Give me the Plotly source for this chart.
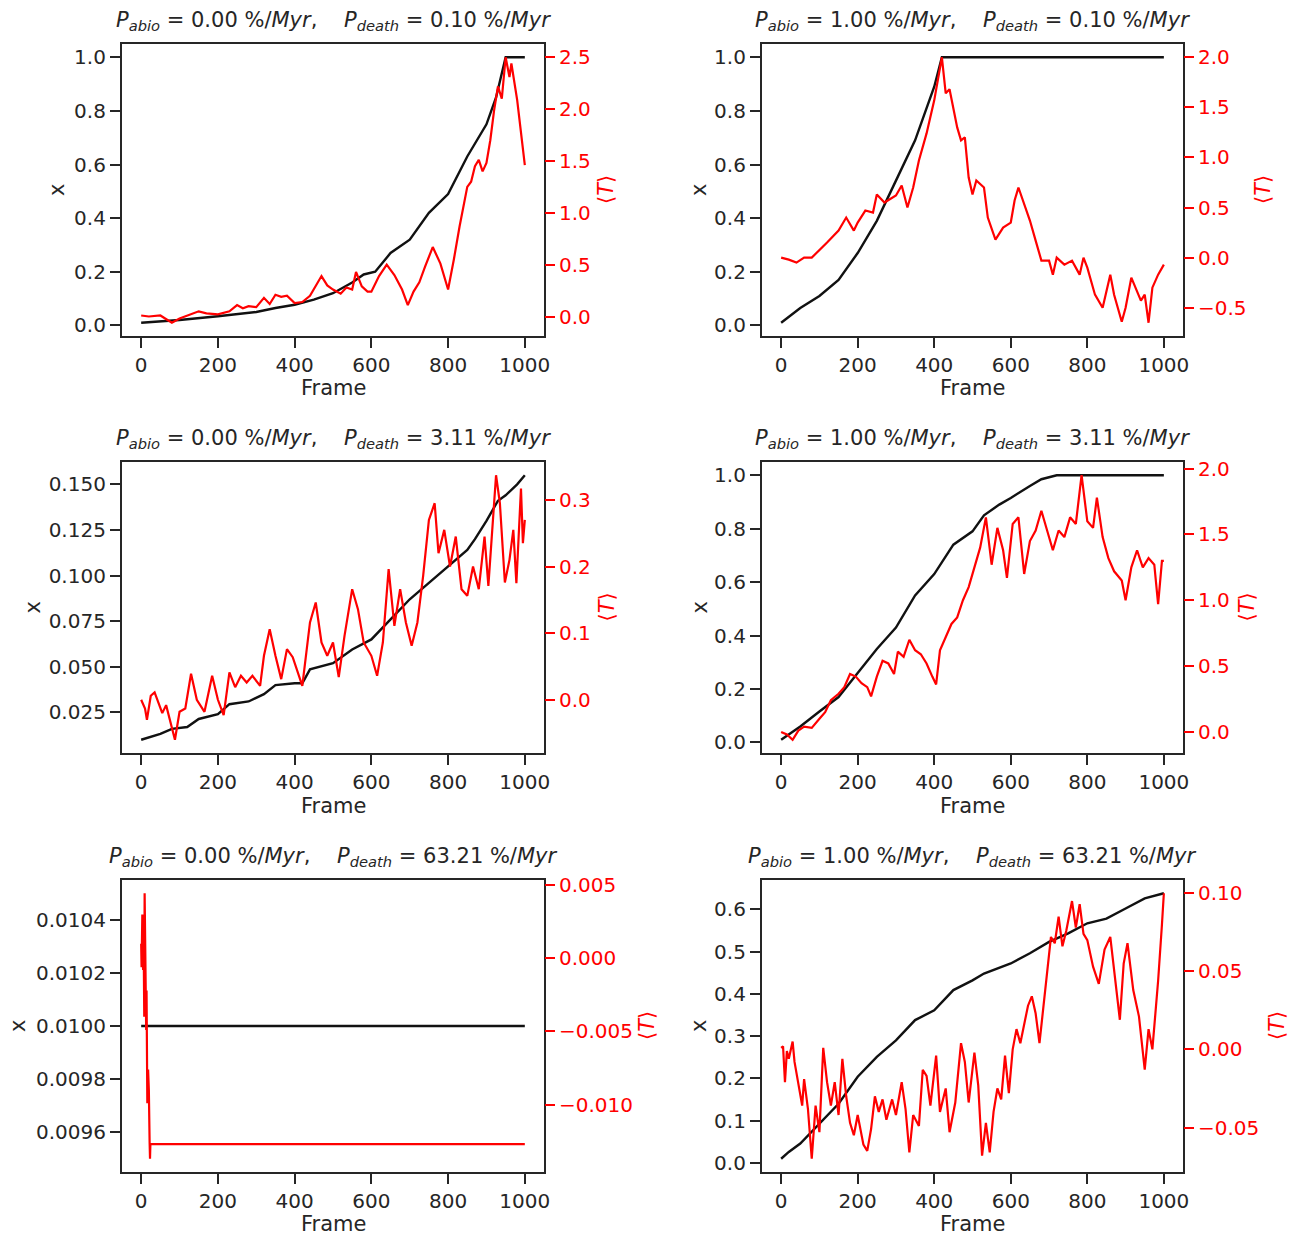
import plotly.graph_objects as go

# ---------------- data ----------------
P_abio = ["0.00", "1.00", "0.00", "1.00", "0.00", "1.00"]
P_death = ["0.10", "0.10", "3.11", "3.11", "63.21", "63.21"]

x_ticks = [0, 200, 400, 600, 800, 1000]

# Panel 1: P_abio 0.00, P_death 0.10
p1_x_frames = [0, 100, 200, 300, 350, 400, 450, 500, 550, 580, 610, 650, 700, 750, 800, 850, 900, 925, 950, 1000]
p1_x_vals = [0.01, 0.02, 0.034, 0.05, 0.065, 0.077, 0.096, 0.12, 0.16, 0.19, 0.20, 0.27, 0.32, 0.42, 0.49, 0.63, 0.75, 0.85, 1.0, 1.0]
p1_T_frames = [0, 20, 50, 80, 100, 130, 150, 170, 200, 230, 250, 265, 280, 300, 320, 335, 350, 365, 380, 400, 420, 440,
               450, 470, 485, 500, 520, 535, 550, 560, 575, 590, 600, 620, 640, 660, 680, 695, 710, 725, 740, 760, 780,
               800, 815, 830, 850, 860, 870, 880, 890, 900, 910, 920, 930, 940, 950, 960, 965, 980, 1000]
p1_T_vals = [0.01, 0.0, 0.01, -0.06, -0.02, 0.02, 0.05, 0.03, 0.02, 0.05, 0.11, 0.08, 0.10, 0.09, 0.18, 0.12, 0.21, 0.19,
             0.20, 0.13, 0.14, 0.20, 0.26, 0.39, 0.30, 0.26, 0.22, 0.28, 0.26, 0.43, 0.29, 0.24, 0.24, 0.39, 0.50, 0.40,
             0.26, 0.11, 0.24, 0.33, 0.48, 0.67, 0.51, 0.26, 0.55, 0.87, 1.25, 1.30, 1.45, 1.51, 1.40, 1.48, 1.70, 1.99,
             2.22, 2.10, 2.50, 2.31, 2.44, 2.09, 1.46]
p1_left_ticks = [0.0, 0.2, 0.4, 0.6, 0.8, 1.0]
p1_right_ticks = [0.0, 0.5, 1.0, 1.5, 2.0, 2.5]

# Panel 2: P_abio 1.00, P_death 0.10
p2_x_frames = [0, 50, 100, 150, 200, 250, 300, 350, 400, 420, 1000]
p2_x_vals = [0.01, 0.065, 0.11, 0.17, 0.27, 0.39, 0.54, 0.69, 0.89, 1.0, 1.0]
p2_T_frames = [0, 20, 40, 60, 80, 100, 120, 150, 170, 190, 200, 220, 240, 250, 270, 300, 315, 330, 345, 360, 380, 400,
               410, 420, 430, 440, 460, 470, 480, 490, 500, 510, 530, 540, 560, 580, 600, 610, 620, 635, 650, 665, 680,
               700, 710, 720, 740, 760, 780, 790, 800, 820, 840, 860, 870, 890, 900, 915, 930, 940, 950, 960, 970, 985,
               1000]
p2_T_vals = [0.0, -0.02, -0.05, 0.0, 0.0, 0.07, 0.15, 0.27, 0.40, 0.27, 0.35, 0.47, 0.45, 0.63, 0.55, 0.62, 0.72, 0.50,
             0.70, 0.97, 1.24, 1.57, 1.77, 2.0, 1.64, 1.68, 1.30, 1.17, 1.20, 0.80, 0.63, 0.77, 0.70, 0.40, 0.18, 0.30,
             0.35, 0.57, 0.70, 0.53, 0.37, 0.17, -0.03, -0.03, -0.17, 0.0, -0.07, -0.03, -0.17, 0.0, -0.10, -0.37,
             -0.50, -0.17, -0.37, -0.64, -0.50, -0.20, -0.33, -0.43, -0.37, -0.65, -0.30, -0.17, -0.07]
p2_left_ticks = [0.0, 0.2, 0.4, 0.6, 0.8, 1.0]
p2_right_ticks = [-0.5, 0.0, 0.5, 1.0, 1.5, 2.0]

# Panel 3: P_abio 0.00, P_death 3.11
p3_x_frames = [0, 50, 80, 120, 150, 200, 230, 280, 320, 350, 400, 420, 440, 500, 550, 600, 650, 700, 750, 800, 850,
               870, 900, 930, 950, 980, 1000]
p3_x_vals = [0.010, 0.0132, 0.016, 0.017, 0.0214, 0.024, 0.0295, 0.031, 0.035, 0.040, 0.041, 0.041, 0.0486, 0.052,
             0.0595, 0.065, 0.076, 0.087, 0.096, 0.105, 0.114, 0.120, 0.130, 0.141, 0.144, 0.150, 0.155]
p3_T_frames = [0, 10, 15, 25, 35, 45, 55, 65, 75, 88, 100, 115, 130, 145, 165, 185, 200, 215, 230, 245, 260, 275, 290,
               310, 320, 335, 350, 365, 380, 395, 420, 440, 455, 470, 485, 500, 515, 530, 550, 565, 580, 600, 615, 630,
               645, 660, 675, 690, 705, 720, 735, 750, 765, 775, 790, 805, 820, 835, 850, 865, 880, 895, 905, 925, 935,
               948, 960, 970, 978, 990, 995, 1000]
p3_T_vals = [0.0, -0.013, -0.03, 0.006, 0.011, -0.005, -0.02, -0.008, -0.03, -0.06, -0.018, -0.013, 0.039, 0.0, -0.018,
             0.036, 0.0, -0.023, 0.041, 0.019, 0.036, 0.026, 0.036, 0.021, 0.066, 0.106, 0.066, 0.031, 0.076, 0.064,
             0.021, 0.116, 0.146, 0.086, 0.066, 0.086, 0.034, 0.096, 0.166, 0.136, 0.086, 0.066, 0.036, 0.086, 0.196,
             0.111, 0.166, 0.116, 0.081, 0.116, 0.186, 0.27, 0.295, 0.22, 0.255, 0.20, 0.245, 0.166, 0.156, 0.20,
             0.166, 0.245, 0.171, 0.337, 0.295, 0.176, 0.21, 0.255, 0.175, 0.317, 0.235, 0.27]
p3_left_ticks = [0.025, 0.050, 0.075, 0.100, 0.125, 0.150]
p3_right_ticks = [0.0, 0.1, 0.2, 0.3]

# Panel 4: P_abio 1.00, P_death 3.11
p4_x_frames = [0, 50, 100, 150, 200, 250, 300, 350, 400, 450, 500, 530, 570, 600, 650, 680, 720, 1000]
p4_x_vals = [0.01, 0.06, 0.116, 0.17, 0.26, 0.35, 0.43, 0.55, 0.63, 0.74, 0.79, 0.85, 0.89, 0.915, 0.96, 0.985, 1.0, 1.0]
p4_T_frames = [0, 15, 30, 45, 60, 80, 100, 115, 130, 150, 165, 180, 195, 210, 225, 235, 250, 265, 280, 295, 305, 320,
               335, 350, 365, 380, 395, 405, 415, 430, 445, 460, 475, 490, 505, 520, 535, 550, 565, 580, 590, 605, 620,
               635, 650, 665, 680, 695, 710, 725, 740, 755, 770, 785, 800, 815, 825, 840, 855, 870, 890, 900, 915, 930,
               945, 960, 975, 985, 995, 1000]
p4_T_vals = [0.0, -0.02, -0.06, 0.01, 0.04, 0.03, 0.10, 0.15, 0.24, 0.29, 0.34, 0.44, 0.42, 0.37, 0.34, 0.27, 0.42, 0.54,
             0.52, 0.44, 0.61, 0.57, 0.70, 0.62, 0.59, 0.52, 0.42, 0.36, 0.62, 0.72, 0.82, 0.87, 1.0, 1.10, 1.25, 1.40,
             1.63, 1.27, 1.55, 1.38, 1.17, 1.58, 1.63, 1.20, 1.45, 1.53, 1.68, 1.53, 1.38, 1.53, 1.48, 1.63, 1.58, 1.95,
             1.60, 1.55, 1.78, 1.48, 1.32, 1.22, 1.15, 1.0, 1.25, 1.38, 1.25, 1.32, 1.27, 0.97, 1.30, 1.30]
p4_left_ticks = [0.0, 0.2, 0.4, 0.6, 0.8, 1.0]
p4_right_ticks = [0.0, 0.5, 1.0, 1.5, 2.0]

# Panel 5: P_abio 0.00, P_death 63.21
p5_x_frames = [0, 1000]
p5_x_vals = [0.01, 0.01]
p5_T_frames = [0, 1, 3, 5, 6, 8, 9, 11, 13, 14, 16, 18, 20, 22, 23, 24, 1000]
p5_T_vals = [0.001, -0.0006, 0.003, -0.0008, 0.0027, -0.004, 0.00445, -0.0022, -0.0049, -0.0022, -0.0099, -0.0076,
             -0.009, -0.0126, -0.0137, -0.0127, -0.0127]
p5_left_ticks = [0.0096, 0.0098, 0.0100, 0.0102, 0.0104]
p5_right_ticks = [-0.010, -0.005, 0.000, 0.005]

# Panel 6: P_abio 1.00, P_death 63.21
p6_x_frames = [0, 20, 50, 100, 150, 200, 250, 300, 350, 400, 450, 500, 530, 600, 650, 700, 750, 800, 850, 900, 950, 1000]
p6_x_vals = [0.01, 0.026, 0.046, 0.093, 0.14, 0.204, 0.251, 0.29, 0.338, 0.361, 0.409, 0.432, 0.448, 0.472, 0.496,
             0.523, 0.543, 0.567, 0.578, 0.602, 0.626, 0.638]
p6_T_frames = [0, 5, 10, 15, 20, 30, 35, 45, 55, 60, 70, 80, 90, 100, 110, 120, 130, 140, 150, 160, 170, 180, 190, 200,
               215, 225, 235, 245, 255, 265, 275, 290, 300, 315, 325, 335, 345, 360, 370, 380, 390, 405, 415, 430, 440,
               455, 470, 480, 490, 505, 515, 525, 535, 545, 555, 565, 575, 585, 595, 605, 615, 625, 635, 645, 655, 665,
               675, 690, 705, 715, 725, 735, 745, 760, 770, 780, 790, 800, 815, 830, 845, 860, 875, 885, 895, 905, 920,
               935, 950, 960, 970, 985, 995, 1000]
p6_T_vals = [0.001, 0.002, -0.021, -0.001, -0.006, 0.005, -0.008, -0.021, -0.036, -0.019, -0.038, -0.070, -0.036, -0.053,
             0.001, -0.021, -0.036, -0.021, -0.042, -0.006, -0.030, -0.047, -0.055, -0.042, -0.061, -0.065, -0.051,
             -0.030, -0.040, -0.032, -0.045, -0.032, -0.042, -0.021, -0.038, -0.066, -0.042, -0.049, -0.013, -0.017,
             -0.036, -0.004, -0.040, -0.025, -0.053, -0.034, 0.004, -0.008, -0.034, -0.002, -0.023, -0.068, -0.047,
             -0.066, -0.040, -0.025, -0.032, -0.004, -0.028, 0.0, 0.013, 0.004, 0.015, 0.028, 0.034, 0.023, 0.004,
             0.038, 0.072, 0.068, 0.085, 0.066, 0.076, 0.095, 0.078, 0.093, 0.074, 0.070, 0.053, 0.042, 0.064, 0.072,
             0.038, 0.019, 0.055, 0.068, 0.038, 0.021, -0.013, 0.013, 0.0, 0.044, 0.080, 0.100]
p6_left_ticks = [0.0, 0.1, 0.2, 0.3, 0.4, 0.5, 0.6]
p6_right_ticks = [-0.05, 0.00, 0.05, 0.10]

panels = [
    (p1_x_frames, p1_x_vals, p1_T_frames, p1_T_vals, p1_left_ticks, p1_right_ticks, ".1f", ".1f"),
    (p2_x_frames, p2_x_vals, p2_T_frames, p2_T_vals, p2_left_ticks, p2_right_ticks, ".1f", ".1f"),
    (p3_x_frames, p3_x_vals, p3_T_frames, p3_T_vals, p3_left_ticks, p3_right_ticks, ".3f", ".1f"),
    (p4_x_frames, p4_x_vals, p4_T_frames, p4_T_vals, p4_left_ticks, p4_right_ticks, ".1f", ".1f"),
    (p5_x_frames, p5_x_vals, p5_T_frames, p5_T_vals, p5_left_ticks, p5_right_ticks, ".4f", ".3f"),
    (p6_x_frames, p6_x_vals, p6_T_frames, p6_T_vals, p6_left_ticks, p6_right_ticks, ".1f", ".2f"),
]

# ---------------- layout (pixel positions of the axes boxes and labels) ----------------
W, H = 1294, 1239
box_x = [(122, 544), (762, 1183)]
box_y = [(44, 336), (462, 753), (880, 1172)]
frame_label_y = [388, 806, 1224]
xlabel_x = [57, 699, 32, 699, 18, 699]
tlabel_x = [606, 1263, 606, 1246, 647, 1277]
FONT = "DejaVu Sans"
TXT = "#262626"
RED = "#ff0000"


def mpl_range(vals):
    lo, hi = min(vals), max(vals)
    if hi == lo:
        d = abs(lo) * 0.05 if lo != 0 else 0.05
        lo, hi = lo - d, hi + d
    m = (hi - lo) * 0.05
    return [lo - m, hi + m]


fig = go.Figure()
layout = {}
annotations = []
NB = "\u00a0"
for i, (xf, xv, tf, tv, lt, rt, lfmt, rfmt) in enumerate(panels):
    r, c = divmod(i, 2)
    xn = i + 1
    yl, yr = 2 * i + 1, 2 * i + 2
    xa = "x" if xn == 1 else f"x{xn}"
    yla = "y" if yl == 1 else f"y{yl}"
    yra = f"y{yr}"
    fig.add_trace(go.Scatter(x=xf, y=xv, mode="lines", line=dict(color="#111111", width=2.4),
                             xaxis=xa, yaxis=yla, showlegend=False, hoverinfo="skip"))
    fig.add_trace(go.Scatter(x=tf, y=tv, mode="lines", line=dict(color=RED, width=2.2),
                             xaxis=xa, yaxis=yra, showlegend=False, hoverinfo="skip"))
    x0, x1 = box_x[c]
    y0, y1 = box_y[r]
    all_frames = xf + tf
    common = dict(ticks="outside", ticklen=10, tickwidth=2, showgrid=False, zeroline=False, automargin=False)
    layout["xaxis" if xn == 1 else f"xaxis{xn}"] = dict(
        domain=[x0 / W, x1 / W], anchor=yla, range=mpl_range([0, 1000] + all_frames),
        tickvals=x_ticks, tickfont=dict(family=FONT, size=20, color=TXT), tickcolor=TXT,
        showline=True, linewidth=2.2, linecolor=TXT, mirror=True, **common)
    layout["yaxis" if yl == 1 else f"yaxis{yl}"] = dict(
        domain=[1 - y1 / H, 1 - y0 / H], anchor=xa, range=mpl_range(xv),
        tickvals=lt, tickformat=lfmt, tickfont=dict(family=FONT, size=20, color=TXT), tickcolor=TXT,
        showline=True, linewidth=2.2, linecolor=TXT, mirror=True, **common)
    layout[f"yaxis{yr}"] = dict(
        overlaying=yla, side="right", anchor=xa, range=mpl_range(tv),
        tickvals=rt, tickformat=rfmt, tickfont=dict(family=FONT, size=20, color=RED), tickcolor=RED,
        showline=False, **common)
    title = (f"<i>P</i><sub><i>abio</i></sub>{NB}={NB}{P_abio[i]}{NB}%/<i>Myr</i>,{NB*4}"
             f"<i>P</i><sub><i>death</i></sub>{NB}={NB}{P_death[i]}{NB}%/<i>Myr</i>")
    annotations.append(dict(text=title, xref="paper", yref="paper", x=(x0 + x1) / 2 / W, y=1 - y0 / H,
                            xanchor="center", yanchor="bottom", yshift=8, showarrow=False,
                            font=dict(family=FONT, size=21, color=TXT)))
    ymid = 1 - (y0 + y1) / 2 / H
    annotations.append(dict(text="Frame", xref="paper", yref="paper", x=(x0 + x1) / 2 / W,
                            y=1 - frame_label_y[r] / H, xanchor="center", yanchor="middle", showarrow=False,
                            font=dict(family=FONT, size=21, color=TXT)))
    annotations.append(dict(text="x", xref="paper", yref="paper", x=xlabel_x[i] / W, y=ymid,
                            xanchor="center", yanchor="middle", showarrow=False, textangle=-90,
                            font=dict(family=FONT, size=21, color=TXT)))
    annotations.append(dict(text="⟨<i>T</i>⟩", xref="paper", yref="paper", x=tlabel_x[i] / W, y=ymid,
                            xanchor="center", yanchor="middle", showarrow=False, textangle=-90,
                            font=dict(family=FONT, size=21, color=RED)))

fig.update_layout(width=W, height=H, margin=dict(l=0, r=0, t=0, b=0, autoexpand=False), plot_bgcolor="white",
                  paper_bgcolor="white", annotations=annotations, font=dict(family=FONT), **layout)

post = ("document.body.style.margin='0';document.body.style.overflow='hidden';"
        "var gd=document.getElementById('{plot_id}');gd.style.position='fixed';"
        "gd.style.left='0px';gd.style.top='0px';")
fig.write_html("out.html", config={"displayModeBar": False}, post_script=post)
